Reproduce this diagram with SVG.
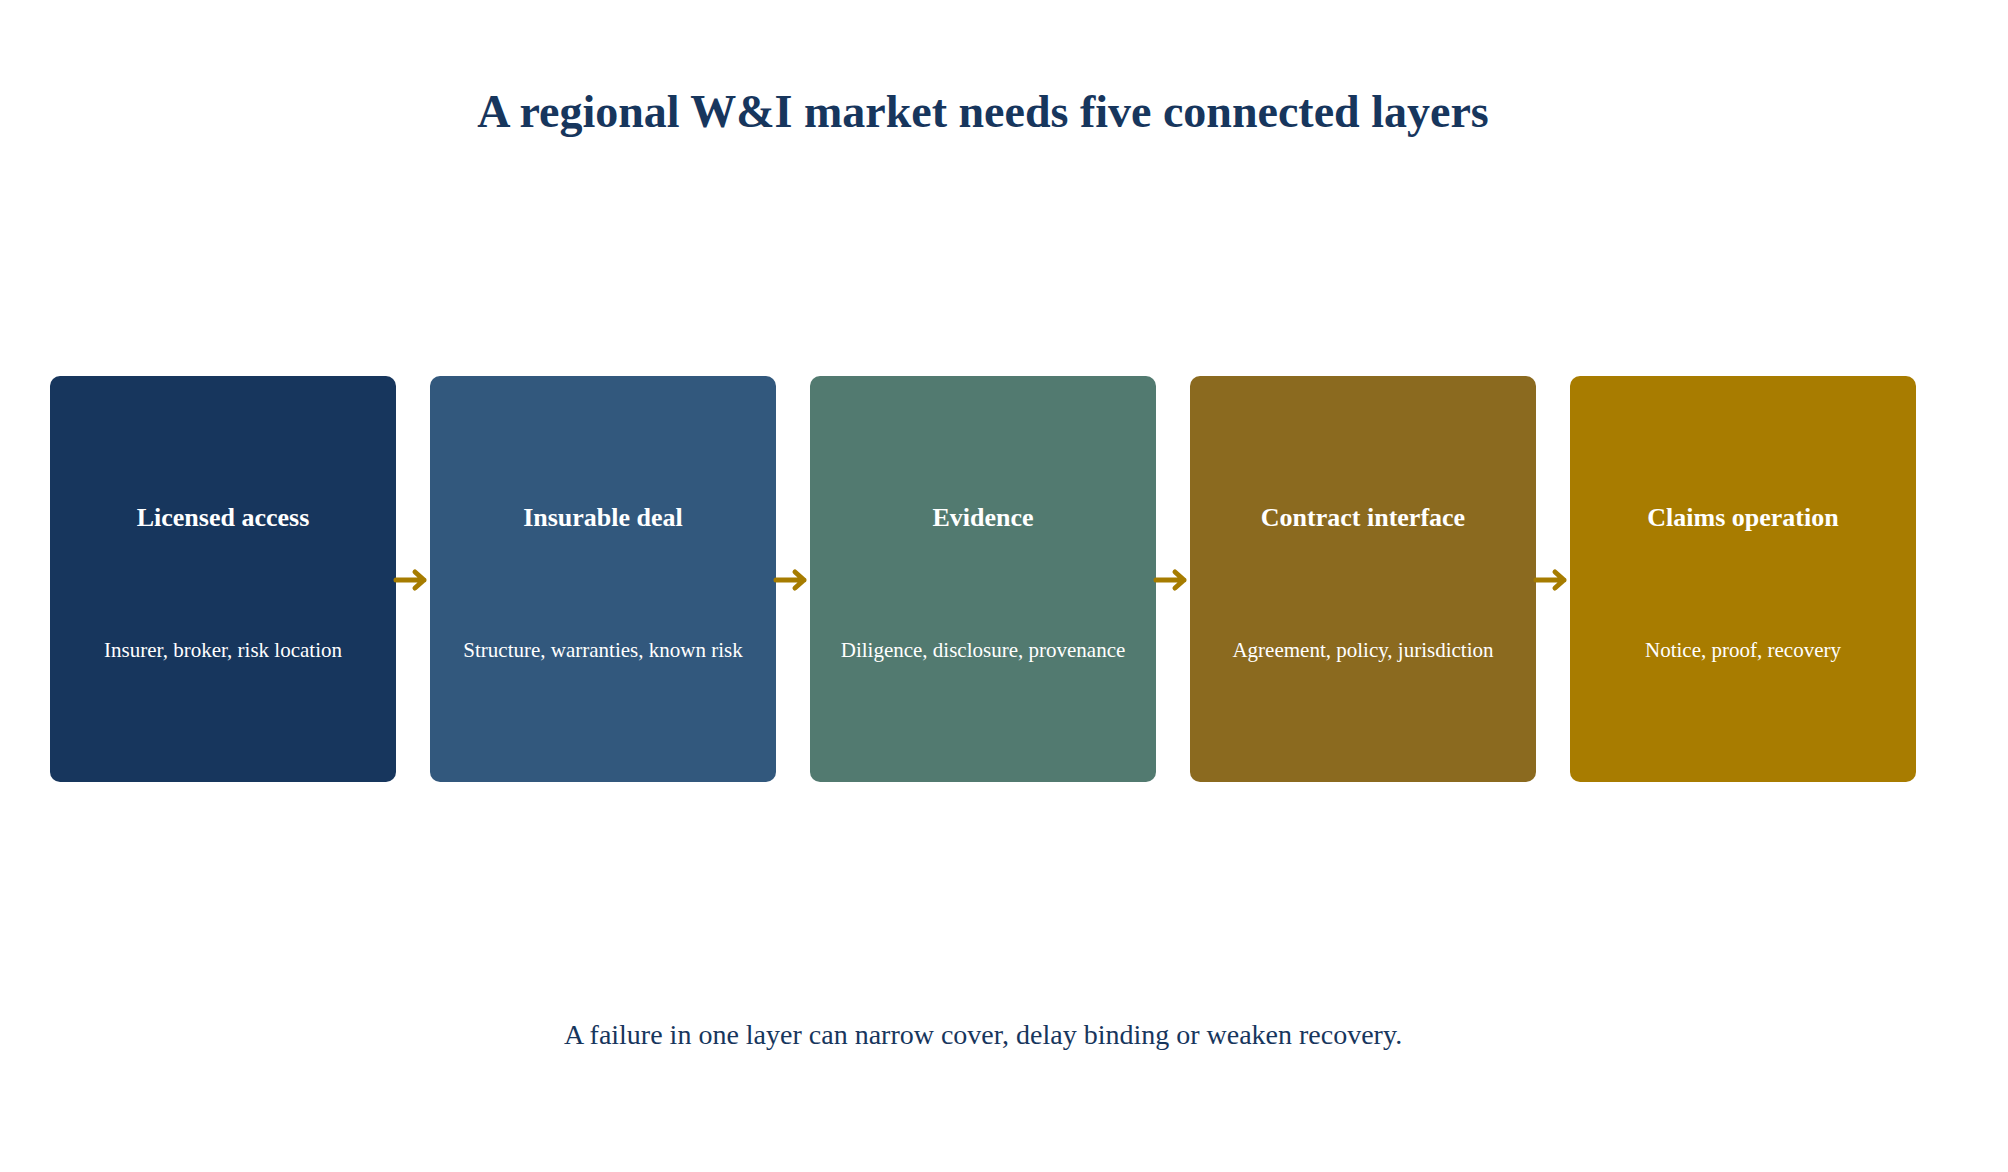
<svg xmlns="http://www.w3.org/2000/svg" width="2008" height="1172" viewBox="0 0 2008 1172">
<style>
text{font-family:"Liberation Serif","Times New Roman",serif;text-anchor:middle}
.t{font-size:46px;font-weight:bold;fill:#17365D}
.h{font-size:26px;font-weight:bold;fill:#fff}
.s{font-size:21px;fill:#fff}
.f{font-size:28px;fill:#17365D}
.c{stroke:#A67C00;stroke-width:5;fill:none;stroke-linecap:round;stroke-linejoin:round}
</style>
<rect width="2008" height="1172" fill="#fff"/>
<text class="t" x="983" y="127">A regional W&amp;I market needs five connected layers</text>
<g id="n1"><rect x="50" y="376" width="346" height="406" rx="10" fill="#17365D"/><text class="h" x="223" y="526">Licensed access</text><text class="s" x="223" y="657">Insurer, broker, risk location</text></g>
<g id="n2"><rect x="430" y="376" width="346" height="406" rx="10" fill="#32587D"/><text class="h" x="603" y="526">Insurable deal</text><text class="s" x="603" y="657">Structure, warranties, known risk</text></g>
<g id="n3"><rect x="810" y="376" width="346" height="406" rx="10" fill="#527A70"/><text class="h" x="983" y="526">Evidence</text><text class="s" x="983" y="657">Diligence, disclosure, provenance</text></g>
<g id="n4"><rect x="1190" y="376" width="346" height="406" rx="10" fill="#8B6A1F"/><text class="h" x="1363" y="526">Contract interface</text><text class="s" x="1363" y="657">Agreement, policy, jurisdiction</text></g>
<g id="n5"><rect x="1570" y="376" width="346" height="406" rx="10" fill="#A87C00"/><text class="h" x="1743" y="526">Claims operation</text><text class="s" x="1743" y="657">Notice, proof, recovery</text></g>
<g id="connectors">
<path class="c" d="M396 580H424M415 572L424 580L415 588"/>
<path class="c" d="M776 580H804M795 572L804 580L795 588"/>
<path class="c" d="M1156 580H1184M1175 572L1184 580L1175 588"/>
<path class="c" d="M1536 580H1564M1555 572L1564 580L1555 588"/>
</g>
<text class="f" x="983" y="1044">A failure in one layer can narrow cover, delay binding or weaken recovery.</text>
</svg>
